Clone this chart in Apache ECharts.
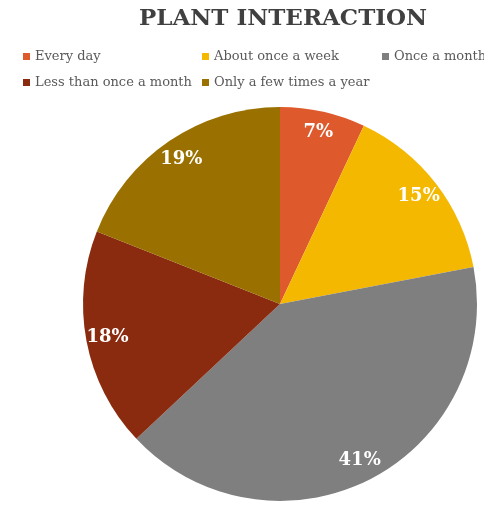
<!DOCTYPE html>
<html><head><meta charset="utf-8">
<script src="https://cdn.jsdelivr.net/npm/echarts@6/dist/echarts.min.js"></script>
<style>html,body{margin:0;padding:0;background:#fff}#c{width:484px;height:506px}</style>
</head><body><div id="c"></div>
<script>
var categories = ["Every day","About once a week","Once a month","Less than once a month","Only a few times a year"];
var values = [7,15,41,18,19];
var colors = ["#DE5A2C","#F4B800","#7F7F7F","#8A2B10","#9A7100"];

var chart = echarts.init(document.getElementById('c'), null, {renderer:'canvas'});
var data = categories.map(function(c,i){return {name:c, value:values[i], itemStyle:{color:colors[i]}};});
var serif = "'DejaVu Serif', 'Liberation Serif', serif";
var legendPos = [[18,45],[197,45],[377,45],[18,71],[197,71]];
var legends = categories.map(function(c,i){
  return {data:[c], left:legendPos[i][0], top:legendPos[i][1], icon:'rect', itemWidth:7, itemHeight:7, itemGap:0,
    textStyle:{fontFamily:serif, fontSize:13, color:'#595959'}};
});
chart.setOption({
  animation:false,
  backgroundColor:'#fff',
  title:{text:'PLANT INTERACTION', left:134, top:3,
    textStyle:{fontFamily:serif, fontWeight:'bold', fontSize:23, color:'#404040'}},
  legend:legends,
  series:[
    {type:'pie', center:[280,304], radius:[0,197], startAngle:90, clockwise:true,
     data:data, label:{show:false}, labelLine:{show:false}, silent:true},
    {type:'pie', center:[280,304], radius:[148,197], startAngle:90, clockwise:true,
     data:data.map(function(d){return {name:d.name, value:d.value, itemStyle:{color:'rgba(0,0,0,0)'}};}),
     silent:true, labelLine:{show:false},
     label:{show:true, position:'inside', formatter:'{d}%', fontFamily:serif, fontWeight:'bold', fontSize:18, color:'#fff'}}
  ]
});
</script></body></html>
